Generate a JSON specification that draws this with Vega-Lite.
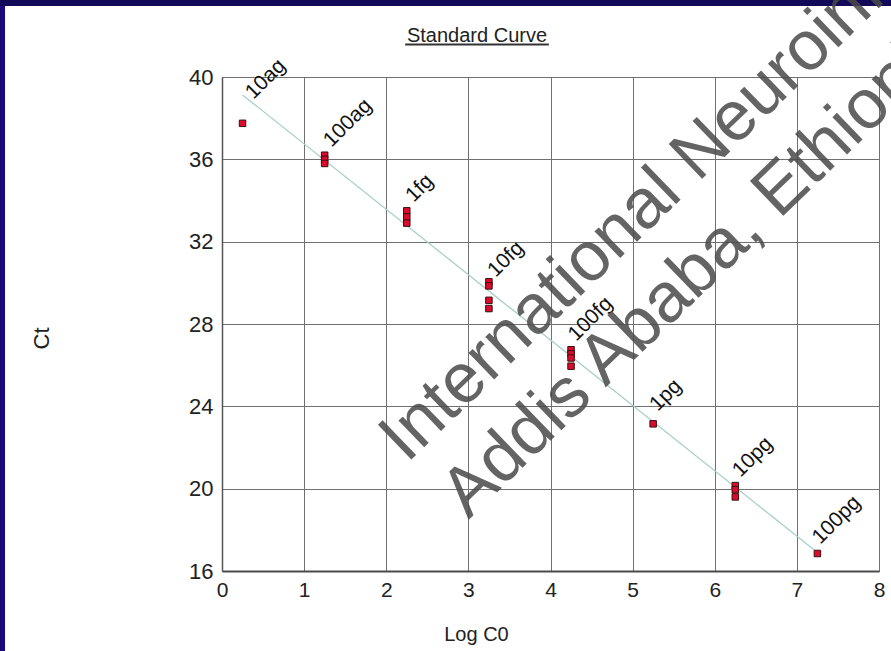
{
  "$schema": "https://vega.github.io/schema/vega-lite/v6.json",
  "width": 657,
  "height": 494,
  "autosize": {"type": "none"},
  "padding": {"left": 222, "top": 77, "right": 12, "bottom": 80},
  "background": "#ffffff",
  "config": {
    "font": "Liberation Sans",
    "view": {"stroke": "#6e6e6e", "strokeWidth": 1}
  },
  "datasets": {
    "points": [
      {"sample": "10ag", "LogC0": 0.25, "Ct": 37.75},
      {"sample": "100ag", "LogC0": 1.25, "Ct": 36.2},
      {"sample": "100ag", "LogC0": 1.25, "Ct": 36.0},
      {"sample": "100ag", "LogC0": 1.25, "Ct": 35.8},
      {"sample": "1fg", "LogC0": 2.25, "Ct": 33.5},
      {"sample": "1fg", "LogC0": 2.25, "Ct": 33.2},
      {"sample": "1fg", "LogC0": 2.25, "Ct": 32.9},
      {"sample": "10fg", "LogC0": 3.25, "Ct": 30.05},
      {"sample": "10fg", "LogC0": 3.25, "Ct": 29.85},
      {"sample": "10fg", "LogC0": 3.25, "Ct": 29.15},
      {"sample": "10fg", "LogC0": 3.25, "Ct": 28.75},
      {"sample": "100fg", "LogC0": 4.25, "Ct": 26.75},
      {"sample": "100fg", "LogC0": 4.25, "Ct": 26.55},
      {"sample": "100fg", "LogC0": 4.25, "Ct": 26.35},
      {"sample": "100fg", "LogC0": 4.25, "Ct": 25.95},
      {"sample": "1pg", "LogC0": 5.25, "Ct": 23.15},
      {"sample": "10pg", "LogC0": 6.25, "Ct": 20.15},
      {"sample": "10pg", "LogC0": 6.25, "Ct": 19.95},
      {"sample": "10pg", "LogC0": 6.25, "Ct": 19.6},
      {"sample": "100pg", "LogC0": 7.25, "Ct": 16.85}
    ],
    "labels": [
      {"sample": "10ag", "LogC0": 0.35, "Ct": 38.88},
      {"sample": "100ag", "LogC0": 1.3, "Ct": 36.55},
      {"sample": "1fg", "LogC0": 2.3, "Ct": 33.88},
      {"sample": "10fg", "LogC0": 3.3, "Ct": 30.23},
      {"sample": "100fg", "LogC0": 4.28, "Ct": 27.13},
      {"sample": "1pg", "LogC0": 5.27, "Ct": 23.72},
      {"sample": "10pg", "LogC0": 6.28, "Ct": 20.52},
      {"sample": "100pg", "LogC0": 7.25, "Ct": 17.26}
    ],
    "fit": [
      {"LogC0": 0.25, "Ct": 39.13},
      {"LogC0": 7.25, "Ct": 16.9}
    ],
    "watermark": [
      {"text": "International Neuroinformatics", "LogC0": 2.25, "Ct": 21.2},
      {"text": "Addis Ababa, Ethiopia", "LogC0": 3.0, "Ct": 18.48}
    ]
  },
  "layer": [
    {
      "data": {"values": [{}]},
      "mark": {"type": "rect", "color": "#120a58", "clip": false},
      "encoding": {
        "x": {"datum": -3, "type": "quantitative", "scale": {"domain": [0, 8], "nice": false, "zero": false}},
        "x2": {"datum": 9},
        "y": {"datum": 43.45, "type": "quantitative", "scale": {"domain": [16, 40], "nice": false, "zero": false}},
        "y2": {"datum": 47}
      }
    },
    {
      "data": {"values": [{}]},
      "mark": {"type": "rect", "color": "#1c0a7a", "clip": false},
      "encoding": {
        "x": {"datum": -3, "type": "quantitative"},
        "x2": {"datum": -2.642},
        "y": {"datum": 10, "type": "quantitative"},
        "y2": {"datum": 43.45}
      }
    },
    {
      "data": {"values": [{"title": "Standard Curve"}]},
      "mark": {"type": "text", "align": "center", "baseline": "alphabetic", "fontSize": 20, "font": "Liberation Sans", "color": "#222222", "clip": false},
      "encoding": {
        "x": {"datum": 3.105, "type": "quantitative"},
        "y": {"datum": 41.72, "type": "quantitative"},
        "text": {"field": "title"}
      }
    },
    {
      "data": {"values": [{}]},
      "mark": {"type": "rule", "color": "#333333", "strokeWidth": 2, "clip": false},
      "encoding": {
        "x": {"datum": 2.23, "type": "quantitative"},
        "x2": {"datum": 3.98},
        "y": {"datum": 41.58, "type": "quantitative"}
      }
    },
    {
      "data": {"name": "fit"},
      "mark": {"type": "line", "color": "#a9d0c8", "strokeWidth": 1.3},
      "encoding": {
        "x": {
          "field": "LogC0", "type": "quantitative",
          "scale": {"domain": [0, 8], "nice": false, "zero": false},
          "axis": {
            "title": "Log C0",
            "values": [0, 1, 2, 3, 4, 5, 6, 7, 8],
            "format": "d",
            "grid": true,
            "gridColor": "#707070",
            "gridWidth": 1,
            "ticks": false,
            "domainColor": "#4a4a4a",
            "domainWidth": 2,
            "labelFontSize": 21,
            "labelColor": "#222222",
            "labelPadding": 8,
            "labelFlush": false,
            "labelOverlap": false,
            "labelFont": "Liberation Sans",
            "titleFont": "Liberation Sans",
            "titleFontSize": 20,
            "titleFontWeight": "normal",
            "titleColor": "#222222",
            "titleX": 254,
            "titleY": 69,
            "titleBaseline": "alphabetic",
            "titleAlign": "center"
          }
        },
        "y": {
          "field": "Ct", "type": "quantitative",
          "scale": {"domain": [16, 40], "nice": false, "zero": false},
          "axis": {
            "title": "Ct",
            "values": [16, 20, 24, 28, 32, 36, 40],
            "format": "d",
            "grid": true,
            "gridColor": "#707070",
            "gridWidth": 1,
            "ticks": false,
            "domainColor": "#555555",
            "domainWidth": 1.5,
            "labelFontSize": 22,
            "labelColor": "#222222",
            "labelPadding": 9,
            "labelFlush": false,
            "labelOverlap": false,
            "labelFont": "Liberation Sans",
            "titleFont": "Liberation Sans",
            "titleFontSize": 22,
            "titleFontWeight": "normal",
            "titleColor": "#222222",
            "titleAngle": -90,
            "titleX": -174,
            "titleY": 261,
            "titleBaseline": "alphabetic",
            "titleAlign": "center"
          }
        }
      }
    },
    {
      "data": {"name": "points"},
      "mark": {"type": "point", "shape": "square", "filled": true, "size": 42, "color": "#dc0a2c", "stroke": "#3a1010", "strokeWidth": 1, "opacity": 1},
      "encoding": {
        "x": {"field": "LogC0", "type": "quantitative"},
        "y": {"field": "Ct", "type": "quantitative"}
      }
    },
    {
      "data": {"name": "labels"},
      "mark": {"type": "text", "angle": -45, "align": "left", "baseline": "alphabetic", "dx": 2, "dy": 2, "fontSize": 21, "font": "Liberation Sans", "color": "#111111"},
      "encoding": {
        "x": {"field": "LogC0", "type": "quantitative"},
        "y": {"field": "Ct", "type": "quantitative"},
        "text": {"field": "sample"}
      }
    },
    {
      "data": {"name": "watermark"},
      "mark": {"type": "text", "angle": -44, "align": "left", "baseline": "alphabetic", "fontSize": 70, "font": "Liberation Sans", "color": "#4a4a4a", "opacity": 0.85, "clip": false},
      "encoding": {
        "x": {"field": "LogC0", "type": "quantitative"},
        "y": {"field": "Ct", "type": "quantitative"},
        "text": {"field": "text"}
      }
    }
  ]
}
